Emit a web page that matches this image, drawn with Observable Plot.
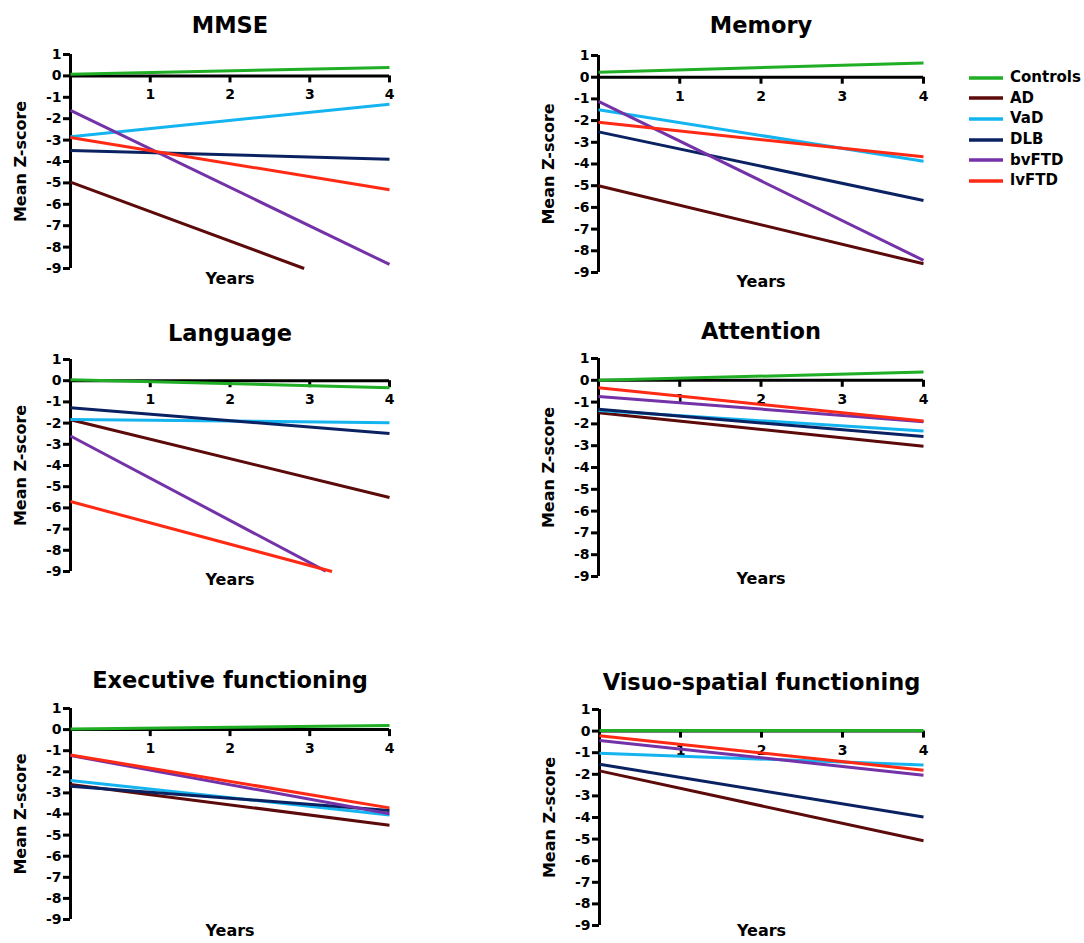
<!DOCTYPE html>
<html>
<head>
<meta charset="utf-8">
<script src="https://cdn.jsdelivr.net/npm/d3@7"></script>
<script src="https://cdn.jsdelivr.net/npm/@observablehq/plot@0.6"></script>
<style>
  body { margin: 0; background: #fff; }
  #root { position: relative; width: 1084px; height: 943px; overflow: hidden; font-family: "DejaVu Sans", sans-serif; font-weight: bold; color: #000; }
  .panel { position: absolute; }
  .panel svg { overflow: visible; }
  #legend { position: absolute; left: 969px; top: 67.5px; }
  .lrow { display: flex; align-items: center; height: 20.6px; }
  .lrow span { font-size: 15px; margin-left: 7px; line-height: 1; }
</style>
</head>
<body>
<div id="root"></div>
<script>
// ---------- data ----------
const groups = ["Controls", "AD", "VaD", "DLB", "bvFTD", "lvFTD"];
const groupColors = ["#1fae24", "#5c0a0a", "#14b4f0", "#0b2262", "#7432a8", "#ff2a14"];
const xTicks = [1, 2, 3, 4];
const yTicks = [1, 0, -1, -2, -3, -4, -5, -6, -7, -8, -9];
const domainTitles = ["MMSE", "Memory", "Language", "Attention", "Executive functioning", "Visuo-spatial functioning"];

// value at year 0, value at the end of the line, and the year at which the line ends
const mmseStart   = [0.08, -4.96, -2.84, -3.49, -1.61, -2.88];
const mmseEnd     = [0.39, -9.00, -1.32, -3.89, -8.81, -5.32];
const mmseEndYear = [4, 2.93, 4, 4, 4, 4];

const memoryStart   = [0.23, -5.00, -1.50, -2.52, -1.11, -2.08];
const memoryEnd     = [0.65, -8.60, -3.87, -5.68, -8.44, -3.67];
const memoryEndYear = [4, 4, 4, 4, 4, 4];

const languageStart   = [0.05, -1.84, -1.83, -1.28, -2.61, -5.70];
const languageEnd     = [-0.33, -5.51, -1.98, -2.49, -8.98, -9.00];
const languageEndYear = [4, 4, 4, 4, 3.2, 3.28];

const attentionStart   = [0.00, -1.49, -1.38, -1.33, -0.74, -0.34];
const attentionEnd     = [0.38, -3.02, -2.33, -2.58, -1.90, -1.87];
const attentionEndYear = [4, 4, 4, 4, 4, 4];

const executiveStart   = [0.03, -2.60, -2.41, -2.68, -1.23, -1.20];
const executiveEnd     = [0.20, -4.53, -4.05, -3.83, -3.99, -3.71];
const executiveEndYear = [4, 4, 4, 4, 4, 4];

const visuoStart   = [0.03, -1.84, -1.02, -1.53, -0.43, -0.22];
const visuoEnd     = [0.03, -5.08, -1.57, -3.98, -2.04, -1.81];
const visuoEndYear = [4, 4, 4, 4, 4, 4];

// ---------- layout ----------
const panelData = [
  [mmseStart, mmseEnd, mmseEndYear],
  [memoryStart, memoryEnd, memoryEndYear],
  [languageStart, languageEnd, languageEndYear],
  [attentionStart, attentionEnd, attentionEndYear],
  [executiveStart, executiveEnd, executiveEndYear],
  [visuoStart, visuoEnd, visuoEndYear]
];
const geometry = [
  {x0: 70,  x4: 389, yTop: 54,  yBot: 268, titleY: 25.5,  yearsY: 278},
  {x0: 598, x4: 923, yTop: 55,  yBot: 272, titleY: 25.5,  yearsY: 281},
  {x0: 70,  x4: 389, yTop: 359, yBot: 571, titleY: 333.5, yearsY: 579.5},
  {x0: 598, x4: 923, yTop: 358, yBot: 576, titleY: 331.5, yearsY: 578},
  {x0: 70,  x4: 389, yTop: 708, yBot: 919, titleY: 680,   yearsY: 930},
  {x0: 599, x4: 923, yTop: 709, yBot: 925, titleY: 682.5, yearsY: 930}
];
const mL = 70, mR = 20, mT = 60, mB = 30;

const root = document.getElementById("root");

domainTitles.forEach((title, k) => {
  const [start, end, endYear] = panelData[k];
  const g = geometry[k];
  const w = mL + (g.x4 - g.x0) + mR;
  const h = mT + (g.yBot - g.yTop) + mB;
  const rows = [];
  groups.forEach((grp, i) => {
    rows.push({group: grp, year: 0, value: start[i]});
    rows.push({group: grp, year: endYear[i], value: end[i]});
  });
  const chart = Plot.plot({
    width: w,
    height: h,
    marginLeft: mL, marginRight: mR, marginTop: mT, marginBottom: mB,
    x: {domain: [0, 4], axis: null},
    y: {domain: [-9, 1], axis: null},
    color: {domain: groups, range: groupColors},
    style: {fontFamily: "DejaVu Sans", fontWeight: "bold", fontSize: "14px", color: "#000", background: "transparent", overflow: "visible"},
    marks: [
      // y axis
      Plot.ruleX([0], {y1: -9, y2: 1, strokeWidth: 3, stroke: "#000"}),
      Plot.ruleY(yTicks, {x1: 0, x2: 0, insetLeft: -7, insetRight: 0, strokeWidth: 3, stroke: "#000"}),
      Plot.text(yTicks, {x: 0, y: d => d, text: d => String(d), textAnchor: "end", dx: -9, fontSize: 14, fontWeight: "bold", fill: "#000"}),
      // x axis at zero
      Plot.ruleY([0], {x1: 0, x2: 4, strokeWidth: 3, stroke: "#000"}),
      Plot.ruleX(xTicks, {y1: 0, y2: 0, insetTop: 0, insetBottom: -7, strokeWidth: 3, stroke: "#000"}),
      Plot.text(xTicks, {x: d => d, y: 0, dy: 19, text: d => String(d), fontSize: 14, fontWeight: "bold", fill: "#000"}),
      // labels
      Plot.text([title], {frameAnchor: "top", lineAnchor: "middle", dy: g.titleY - g.yTop, fontSize: 22.5, fontWeight: "bold", fill: "#000"}),
      Plot.text(["Mean Z-score"], {frameAnchor: "left", textAnchor: "middle", lineAnchor: "middle", dx: -50, rotate: -90, fontSize: 16, fontWeight: "bold", fill: "#000"}),
      Plot.text(["Years"], {frameAnchor: "bottom", lineAnchor: "middle", dy: g.yearsY - g.yBot, fontSize: 16, fontWeight: "bold", fill: "#000"}),
      // data lines
      Plot.line(rows, {x: "year", y: "value", z: "group", stroke: "group", strokeWidth: 3, strokeLinecap: "butt"})
    ]
  });
  const div = document.createElement("div");
  div.className = "panel";
  div.style.left = (g.x0 - mL) + "px";
  div.style.top = (g.yTop - mT) + "px";
  div.style.width = w + "px";
  div.style.height = h + "px";
  div.appendChild(chart);
  root.appendChild(div);
});

// ---------- legend ----------
const legend = document.createElement("div");
legend.id = "legend";
groups.forEach((grp, i) => {
  const row = document.createElement("div");
  row.className = "lrow";
  row.innerHTML = `<svg width="34" height="6"><line x1="0" x2="34" y1="3" y2="3" stroke="${groupColors[i]}" stroke-width="3.5"/></svg><span>${grp}</span>`;
  legend.appendChild(row);
});
root.appendChild(legend);
</script>
</body>
</html>
